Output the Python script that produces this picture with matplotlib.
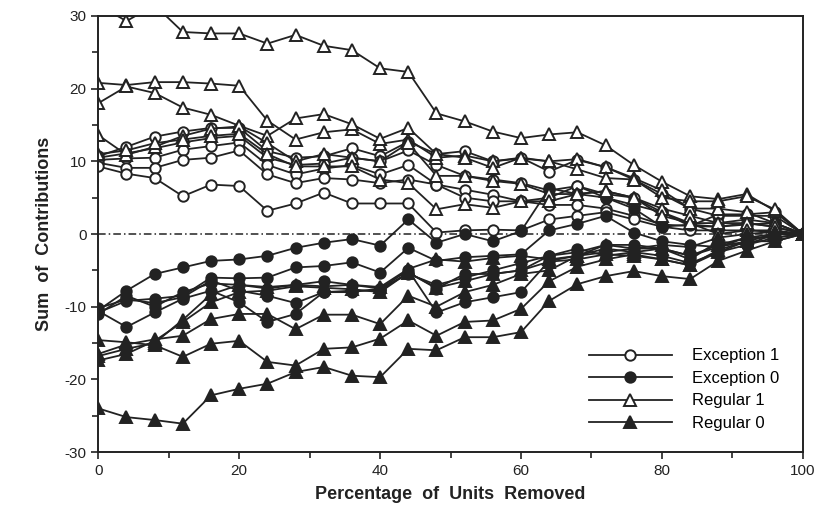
import numpy as np
import matplotlib.pyplot as plt

plt.rcParams['font.family'] = ['Liberation Sans', 'DejaVu Sans']
plt.rcParams['axes.unicode_minus'] = False

pct_removed = np.arange(0, 101, 4)

# sums of contributions, one list per run
exception_1 = [
    [10.7, 12.0, 13.4, 14.1, 14.6, 14.6, 11.4, 10.5, 10.7, 11.8, 10.7, 12.7, 11.0, 11.4, 10.0, 10.5, 8.6, 10.2, 9.2, 7.5, 5.5, 3.5, 2.5, 2.5, 2.5, 0],
    [10.5, 11.1, 11.8, 12.6, 13.2, 13.5, 10.5, 9.5, 9.7, 10.5, 10.0, 11.5, 9.5, 8.0, 7.5, 7.0, 6.0, 6.6, 5.5, 5.0, 3.0, 1.1, 2.7, 2.7, 3.0, 0],
    [10.2, 10.4, 10.5, 11.6, 12.1, 12.6, 9.5, 8.2, 9.0, 9.5, 8.2, 9.5, 6.8, 6.1, 5.4, 4.5, 5.0, 6.6, 5.0, 4.0, 3.0, 1.5, 1.5, 2.0, 1.5, 0],
    [9.8, 9.1, 9.1, 10.2, 10.5, 11.5, 8.2, 7.0, 7.7, 7.5, 7.0, 7.5, 6.8, 5.0, 4.5, 4.5, 4.0, 4.0, 3.5, 2.5, 1.3, 1.1, 1.0, 1.5, 1.0, 0],
    [9.3, 8.3, 7.7, 5.2, 6.8, 6.6, 3.2, 4.2, 5.7, 4.2, 4.2, 4.2, 0.2, 0.5, 0.6, 0.5, 2.0, 2.5, 3.0, 2.0, 1.0, 0.5, 0.5, 0.5, 0.5, 0],
]
exception_0 = [
    [-10.5, -7.8, -5.5, -4.6, -3.7, -3.5, -3.0, -1.9, -1.2, -0.7, -1.6, 2.0, -1.2, 0.0, -1.0, 0.4, 6.3, 5.5, 5.0, 3.5, 1.0, 1.3, 1.0, 1.3, 1.5, 0],
    [-10.8, -9.2, -8.9, -8.5, -6.0, -6.1, -6.0, -4.6, -4.4, -3.9, -5.3, -1.9, -3.7, -3.2, -3.0, -2.8, 0.5, 1.4, 2.5, 0.2, -1.0, -1.5, -1.8, -1.0, -1.0, 0],
    [-10.6, -12.8, -10.8, -8.9, -7.8, -9.4, -12.1, -11.0, -8.0, -8.0, -7.5, -5.0, -10.8, -9.4, -8.7, -8.0, -3.7, -3.0, -2.5, -2.0, -2.0, -3.0, -1.8, -0.5, -0.5, 0],
    [-11.0, -8.5, -10.0, -8.0, -6.8, -7.0, -7.5, -7.0, -6.5, -7.0, -7.5, -5.5, -7.0, -6.0, -5.0, -4.0, -3.0, -2.5, -1.5, -1.5, -2.0, -3.5, -1.0, -1.5, 0.0, 0],
    [-10.2, -9.0, -9.5, -8.7, -6.4, -7.8, -8.5, -9.5, -8.0, -7.8, -7.8, -5.3, -7.5, -5.5, -5.5, -5.0, -3.0, -2.0, -3.0, -2.5, -3.0, -4.0, -2.5, -1.5, -0.5, 0],
]
regular_1 = [
    [31.5, 29.3, 31.5, 27.8, 27.6, 27.6, 26.2, 27.4, 25.9, 25.3, 22.8, 22.3, 16.6, 15.5, 14.1, 13.2, 13.7, 14.0, 12.2, 9.5, 7.2, 5.2, 4.8, 5.5, 3.2, 0],
    [20.8, 20.5, 20.9, 20.9, 20.7, 20.4, 15.6, 13.0, 14.0, 14.4, 12.4, 13.0, 10.5, 10.8, 10.0, 10.4, 10.0, 10.3, 9.2, 7.7, 6.0, 3.5, 3.5, 3.0, 1.5, 0],
    [18.0, 20.3, 19.4, 17.4, 16.4, 14.9, 13.5, 15.9, 16.5, 15.1, 13.1, 14.6, 11.0, 10.5, 9.1, 10.5, 10.0, 8.9, 7.7, 7.5, 5.0, 4.5, 4.5, 5.2, 3.4, 0],
    [13.6, 10.9, 12.0, 13.5, 14.5, 14.8, 12.5, 10.0, 11.0, 10.5, 10.0, 12.5, 8.0, 8.0, 7.3, 6.9, 5.5, 5.5, 5.9, 5.0, 3.5, 2.5, 1.5, 1.5, 1.0, 0],
    [11.0, 11.5, 12.5, 13.0, 13.5, 13.8, 11.0, 9.3, 9.3, 9.3, 7.5, 7.0, 3.4, 4.1, 3.6, 4.5, 4.5, 5.5, 5.9, 5.0, 2.5, 1.5, 0.0, 0.5, 0.3, 0],
]
regular_0 = [
    [-24.0, -25.2, -25.6, -26.1, -22.2, -21.3, -20.6, -19.0, -18.3, -19.5, -19.7, -15.8, -16.0, -14.2, -14.2, -13.5, -9.2, -6.9, -5.8, -5.1, -5.8, -6.2, -3.7, -2.3, -1.0, 0],
    [-17.4, -16.5, -14.7, -12.1, -9.4, -8.0, -7.8, -7.2, -7.4, -7.6, -8.0, -5.3, -7.4, -6.5, -5.5, -5.0, -3.8, -3.5, -2.8, -3.0, -3.5, -4.3, -2.2, -1.0, 0.0, 0],
    [-14.6, -14.9, -15.3, -16.9, -15.1, -14.7, -17.6, -18.1, -15.8, -15.6, -14.4, -11.9, -14.0, -12.1, -11.9, -10.3, -6.5, -4.5, -3.5, -2.8, -3.5, -4.3, -2.5, -1.0, 0.0, 0],
    [-16.5, -15.2, -14.5, -14.0, -11.7, -11.0, -11.0, -13.1, -11.1, -11.1, -12.4, -8.5, -10.0, -8.0, -7.0, -5.5, -5.0, -3.0, -2.0, -2.5, -2.0, -3.0, -1.5, -0.5, 0.0, 0],
    [-16.8, -15.8, -15.0, -11.8, -8.3, -7.0, -7.3, -7.0, -7.2, -7.0, -7.3, -4.8, -3.5, -3.8, -3.3, -3.0, -3.5, -3.0, -1.5, -2.0, -1.5, -1.8, -0.5, 0.0, 0.3, 0],
]

groups = [
    ("Exception 1", exception_1, "o", "white"),
    ("Exception 0", exception_0, "o", "#222222"),
    ("Regular 1", regular_1, "^", "white"),
    ("Regular 0", regular_0, "^", "#222222"),
]

fig = plt.figure(figsize=(8.26, 5.16), dpi=100)
ax = fig.add_axes([0.119, 0.124, 0.853, 0.845])

ink = "#222222"
ax.plot([0, 100], [0, 0], color=ink, lw=1.1, ls=(0, (5, 2, 1, 2)))

for label, runs, marker, face in groups:
    for i, ys in enumerate(runs):
        ax.plot(pct_removed, ys, color=ink, lw=1.3, marker=marker,
                markersize=7.5 if marker == "o" else 8, markerfacecolor=face,
                markeredgecolor=ink, markeredgewidth=1.4,
                label=label if i == 0 else None)

ax.set_xlim(0, 100)
ax.set_ylim(-30, 30)
ax.set_xticks(np.arange(0, 101, 20))
ax.set_xticks(np.arange(10, 100, 20), minor=True)
ax.set_yticks(np.arange(-30, 31, 10))
ax.set_yticks(np.arange(-25, 30, 10), minor=True)
ax.tick_params(which="both", direction="out", colors=ink, width=1.2, labelsize=11)
ax.tick_params(which="major", length=5)
ax.tick_params(which="minor", length=4)
for s in ax.spines.values():
    s.set_linewidth(1.4)
    s.set_color(ink)

ax.set_xlabel("Percentage  of  Units  Removed", fontsize=13, fontweight="bold",
              color=ink, labelpad=6)
ax.set_ylabel("Sum  of  Contributions", fontsize=13, fontweight="bold",
              color=ink, labelpad=8)

ax.legend(loc="lower right", frameon=False, handlelength=5, fontsize=12,
          labelspacing=0.45, handletextpad=1.2, borderaxespad=0.6,
          bbox_to_anchor=(0.99, 0.01))

fig.savefig("out.png", dpi=100)
